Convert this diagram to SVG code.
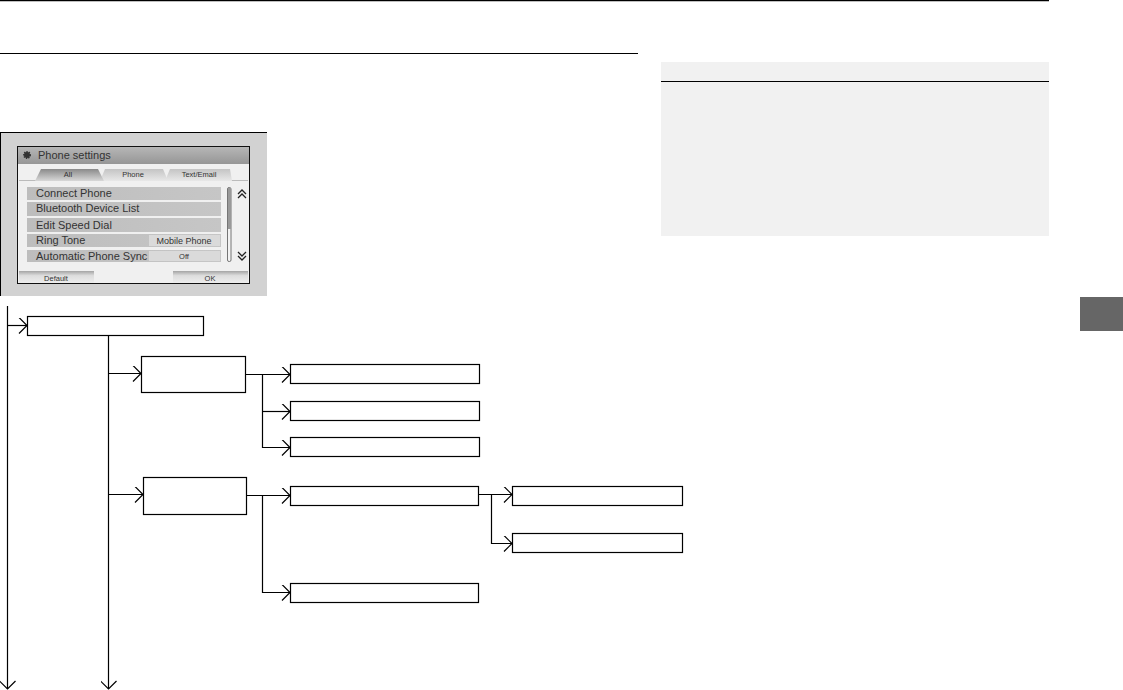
<svg xmlns="http://www.w3.org/2000/svg" width="1123" height="690" viewBox="0 0 1123 690">
<defs>
<marker id="arr" viewBox="0 0 10 16" refX="9" refY="8" markerWidth="10" markerHeight="16" markerUnits="userSpaceOnUse" orient="auto"><path d="M1 0L9 8L1 16" fill="none" stroke="#000" stroke-width="1.2"/></marker>
<linearGradient id="bar" x1="0" y1="0" x2="0" y2="1"><stop offset="0" stop-color="#b8b8b8"/><stop offset="1" stop-color="#969696"/></linearGradient>
<linearGradient id="btn" x1="0" y1="0" x2="0" y2="1"><stop offset="0" stop-color="#a4a4a4"/><stop offset=".35" stop-color="#dcdcdc"/><stop offset="1" stop-color="#f0f0f0"/></linearGradient>
<linearGradient id="act" x1="0" y1="0" x2="0" y2="1"><stop offset="0" stop-color="#8a8a8a"/><stop offset="1" stop-color="#d8d8d8"/></linearGradient>
<linearGradient id="tab" x1="0" y1="0" x2="0" y2="1"><stop offset="0" stop-color="#c4c4c4"/><stop offset="1" stop-color="#e8e8e8"/></linearGradient>
<linearGradient id="rowg" x1="0" y1="0" x2="1" y2="0"><stop offset="0" stop-color="#bdbdbd"/><stop offset="1" stop-color="#c6c6c6"/></linearGradient>
</defs>
<style>
.box{fill:#fff;stroke:#000;stroke-width:1.2}
.c{fill:none;stroke:#000;stroke-width:1.2}
.ui{font-family:"Liberation Sans",Arial,sans-serif;fill:#333}
.m{font-size:11px}
.s{font-size:7.5px}
.row{fill:url(#rowg)}
.val{fill:#dadada}
</style>
<rect width="1123" height="690" fill="#fff"/>
<g id="page">
<line x1="0" y1="0.5" x2="1049" y2="0.5" stroke="#000" stroke-width="1.6"/>
<line x1="0" y1="53.5" x2="638" y2="53.5" stroke="#000" stroke-width="1.2"/>
<rect x="661" y="62" width="388" height="174" fill="#f1f1f1"/>
<line x1="661" y1="81.500" x2="1049" y2="81.500" stroke="#000" stroke-width="1.2"/>
<rect x="1080" y="297" width="43" height="34" fill="#666"/>
</g>
<g id="screenshot">
<rect x="0" y="133" width="267" height="163" fill="#d2d2d2"/>
<line x1="0" y1="132.500" x2="267" y2="132.500" stroke="#000"/>
<line x1="0.500" y1="133" x2="0.500" y2="296" stroke="#000"/>
<rect x="17" y="146" width="233" height="138" fill="#f0f0f0"/>
<rect x="18" y="146" width="231" height="18" fill="url(#bar)"/>
<circle cx="27" cy="155" r="3" fill="#333" stroke="#333" stroke-width="2" stroke-dasharray="1.2 1"/>
<text class="ui m" x="38" y="159">Phone settings</text>
<line x1="19" y1="180.500" x2="248" y2="180.500" stroke="#bbb"/>
<path d="M100 181L105 169H163L168 181Z" fill="url(#tab)"/>
<path d="M165 181L170 169H230L232 181Z" fill="url(#tab)"/>
<path d="M35 181L41 169H98L104 181Z" fill="url(#act)"/>
<text class="ui s" x="68" y="177" text-anchor="middle">All</text>
<text class="ui s" x="133" y="177" text-anchor="middle">Phone</text>
<text class="ui s" x="199" y="177" text-anchor="middle">Text/Email</text>
<rect class="row" x="27" y="187" width="194" height="13"/>
<rect class="row" x="27" y="202" width="194" height="14"/>
<rect class="row" x="27" y="218" width="194" height="14"/>
<rect class="row" x="27" y="234" width="194" height="13"/>
<rect class="row" x="27" y="250" width="194" height="12"/>
<rect class="val" x="149" y="235" width="71" height="11"/>
<rect class="val" x="149" y="251" width="71" height="10"/>
<text class="ui m" x="36" y="197">Connect Phone</text>
<text class="ui m" x="36" y="212">Bluetooth Device List</text>
<text class="ui m" x="36" y="229">Edit Speed Dial</text>
<text class="ui m" x="36" y="244">Ring Tone</text>
<text class="ui m" x="36" y="260">Automatic Phone Sync</text>
<text class="ui" font-size="9" x="184" y="244" text-anchor="middle">Mobile Phone</text>
<text class="ui s" x="184" y="259" text-anchor="middle">Off</text>
<rect x="227.500" y="187.500" width="3.500" height="74" rx="1.500" fill="#f2f2f2" stroke="#555" stroke-width=".8"/>
<rect x="228" y="188" width="3" height="41" fill="#999"/>
<path d="M238 194L242 190L246 194M238 198L242 194L246 198" fill="none" stroke="#222" stroke-width="1.3"/>
<path d="M238 252L242 256L246 252M238 256L242 260L246 256" fill="none" stroke="#222" stroke-width="1.3"/>
<rect x="19" y="271" width="75" height="13" fill="url(#btn)"/>
<rect x="173" y="271" width="75" height="13" fill="url(#btn)"/>
<text class="ui s" x="56" y="281" text-anchor="middle">Default</text>
<text class="ui s" x="210" y="281" text-anchor="middle">OK</text>
<rect x="17.500" y="146.500" width="232" height="137" fill="none" stroke="#111"/>
</g>
<g id="connectors">
<path class="c" d="M7.500 306V689" marker-end="url(#arr)"/>
<path class="c" d="M7.500 325.500H27" marker-end="url(#arr)"/>
<path class="c" d="M108.500 336V689" marker-end="url(#arr)"/>
<path class="c" d="M108.500 373.500H141" marker-end="url(#arr)"/>
<path class="c" d="M108.500 494.500H143" marker-end="url(#arr)"/>
<path class="c" d="M246 374.500H290" marker-end="url(#arr)"/>
<path class="c" d="M262.500 374.500V447.500H290" marker-end="url(#arr)"/>
<path class="c" d="M262.500 411.500H290" marker-end="url(#arr)"/>
<path class="c" d="M247 495.500H290" marker-end="url(#arr)"/>
<path class="c" d="M262.500 495.500V592.500H290" marker-end="url(#arr)"/>
<path class="c" d="M479 494.500H512" marker-end="url(#arr)"/>
<path class="c" d="M491.500 494.500V543.500H512" marker-end="url(#arr)"/>
</g>
<g id="n1"><rect class="box" x="27.500" y="316.500" width="176" height="19"/></g>
<g id="n2"><rect class="box" x="141.500" y="356.500" width="104" height="36"/></g>
<g id="n3"><rect class="box" x="290.500" y="364.500" width="189" height="19"/></g>
<g id="n4"><rect class="box" x="290.500" y="401.500" width="189" height="19"/></g>
<g id="n5"><rect class="box" x="290.500" y="437.500" width="189" height="19"/></g>
<g id="n6"><rect class="box" x="143.500" y="477.500" width="103" height="37"/></g>
<g id="n7"><rect class="box" x="290.500" y="486.500" width="188" height="19"/></g>
<g id="n8"><rect class="box" x="512.500" y="486.500" width="170" height="19"/></g>
<g id="n9"><rect class="box" x="512.500" y="533.500" width="170" height="19"/></g>
<g id="n10"><rect class="box" x="290.500" y="583.500" width="188" height="19"/></g>
</svg>
